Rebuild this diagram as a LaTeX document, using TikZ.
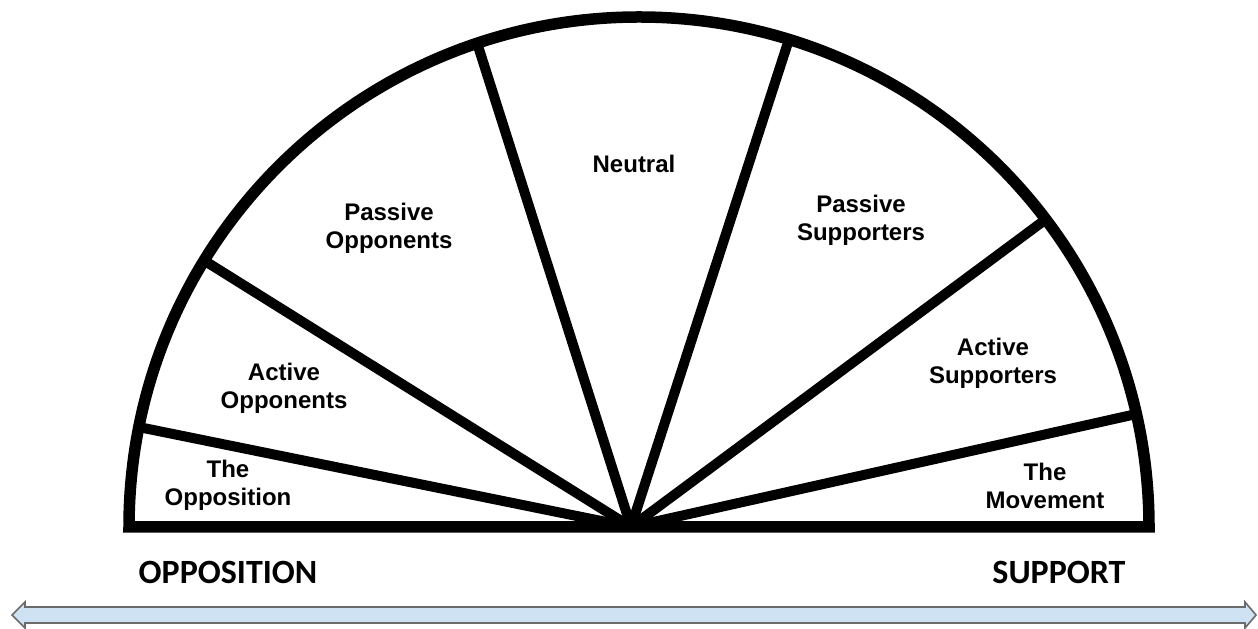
\documentclass[tikz,border=0pt]{standalone}
\usepackage{fontspec}
\usetikzlibrary{calc}
\setmainfont{Liberation Sans}
\newfontfamily\calib{Carlito}
\definecolor{barfill}{HTML}{CFE2F3}
\definecolor{baredge}{HTML}{6B6B6B}
\begin{document}
\begin{tikzpicture}[x=1pt,y=1pt,
  rim/.style={line width=11.5pt,line join=miter},
  spoke/.style={line width=10pt,line cap=butt},
  seglabel/.style={font=\fontsize{24}{28}\selectfont\bfseries,align=center,inner sep=0pt},
  endlabel/.style={font=\calib\fontsize{34}{40}\selectfont\bfseries,inner sep=0pt},
  scalebar/.style={fill=barfill,draw=baredge,line width=1.6pt,line join=miter}]
\useasboundingbox (0,0) rectangle (1258,629);

% hub where all dividers meet, and the centre of the outer arc
\coordinate (hub) at (631,102);
\coordinate (arcc) at (639,102);

% dividers between the segments
\foreach \name/\ang in {d1/168.7,d2/148.5,d3/108.5,d4/72.9,d5/37.1,d6/12.8}{
  \coordinate (\name) at ($(arcc)+(\ang:510)$);
}
\foreach \name in {d1,d2,d3,d4,d5,d6}{
  \draw[spoke] (hub) -- (\name);
}

% outer half disc
\draw[rim] (129,102) arc[start angle=180,end angle=0,radius=510] -- cycle;

% segment labels
\node[seglabel] (opp)  at (228,144) {The\\Opposition};
\node[seglabel] (aopp) at (284,241) {Active\\Opponents};
\node[seglabel] (popp) at (389,401) {Passive\\Opponents};
\node[seglabel] (neu)  at (634,465) {Neutral};
\node[seglabel] (psup) at (861,409) {Passive\\Supporters};
\node[seglabel] (asup) at (993,266) {Active\\Supporters};
\node[seglabel] (mov)  at (1045,143.5) {The\\Movement};

% ends of the scale
\node[endlabel] (left)  at (228,57) {OPPOSITION};
\node[endlabel] (right) at (1059,57) {SUPPORT};

% double-headed scale bar
\draw[scalebar] (12,14) -- (25,27) -- (25,22) -- (1245,22) -- (1245,27)
  -- (1256,14) -- (1245,1) -- (1245,6) -- (25,6) -- (25,1) -- cycle;
\end{tikzpicture}
\end{document}
